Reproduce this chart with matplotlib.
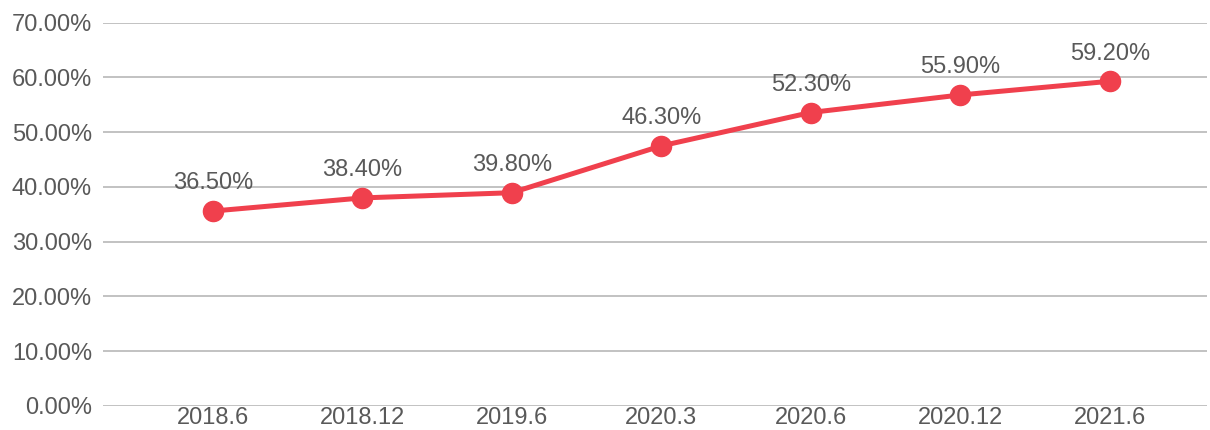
import matplotlib
matplotlib.use("Agg")
import matplotlib.pyplot as plt
from matplotlib.ticker import FuncFormatter

categories = ["2018.6", "2018.12", "2019.6", "2020.3", "2020.6", "2020.12", "2021.6"]
values = [35.6, 38.0, 38.95, 47.5, 53.6, 56.8, 59.3]
value_labels = ["36.50%", "38.40%", "39.80%", "46.30%", "52.30%", "55.90%", "59.20%"]
y_ticks = [0, 10, 20, 30, 40, 50, 60, 70]

plt.rcParams['font.family'] = ['Liberation Sans', 'DejaVu Sans']

fig = plt.figure(figsize=(12.1, 4.3), dpi=100)
ax = fig.add_axes([103 / 1210, 1 - 406 / 430, (1207 - 103) / 1210, (406 - 22.7) / 430])

x = list(range(len(categories)))
line_color = "#f0404d"
ax.plot(x, values, color=line_color, linewidth=3.6, marker="o", markersize=14.5,
        markerfacecolor=line_color, markeredgecolor=line_color, zorder=3, clip_on=False)

for xi, v, lab in zip(x, values, value_labels):
    ax.annotate(lab, (xi, v), xytext=(0, 20), textcoords="offset points",
                ha="center", va="center", fontsize=17, color="#595959")

ax.set_xlim(-0.734, 6.651)
ax.set_ylim(0, 70)
ax.set_yticks(y_ticks)
ax.yaxis.set_major_formatter(FuncFormatter(lambda v, p: f"{v:.2f}%"))
ax.set_xticks(x)
ax.set_xticklabels(categories)
ax.grid(axis="y", color="#bdbdbd", linewidth=1.3)
ax.set_axisbelow(True)
for s in ax.spines.values():
    s.set_visible(False)
ax.tick_params(axis="both", length=0, labelsize=17, labelcolor="#595959")
ax.tick_params(axis="y", pad=8)
ax.tick_params(axis="x", pad=0.5)

fig.savefig("out.png", dpi=100, facecolor="white")
